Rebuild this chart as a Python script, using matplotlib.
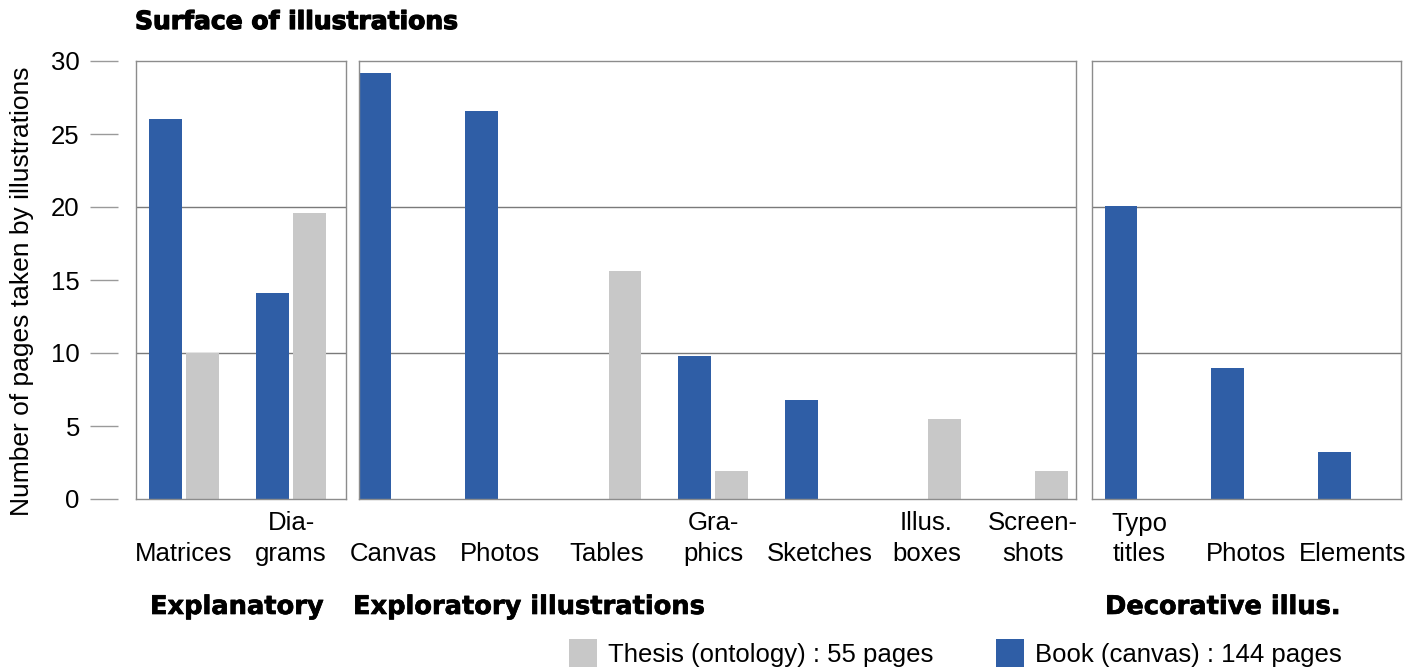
import numpy as np
import matplotlib
matplotlib.use("Agg")
import matplotlib.pyplot as plt
from matplotlib.patches import Patch
import matplotlib.patheffects as pe

plt.rcParams['font.family'] = ['Liberation Sans', 'DejaVu Sans']

# ---- data ----
cats_expl = ["Matrices", "Dia-\ngrams"]
book_expl = [26.0, 14.1]
thesis_expl = [10.0, 19.6]

cats_explor = ["Canvas", "Photos", "Tables", "Gra-\nphics", "Sketches", "Illus.\nboxes", "Screen-\nshots"]
book_explor = [29.2, 26.6, 0, 9.8, 6.75, 0, 0]
thesis_explor = [0, 0, 15.65, 1.95, 0, 5.5, 1.95]

cats_deco = ["Typo\ntitles", "Photos", "Elements"]
book_deco = [20.1, 9.0, 3.2]
thesis_deco = [0, 0, 0]

group_titles = ["Explanatory", "Exploratory illustrations", "Decorative illus."]
yticks = [0, 5, 10, 15, 20, 25, 30]
legend_labels = ["Thesis (ontology) : 55 pages", "Book (canvas) : 144 pages"]

BLUE = "#2F5EA6"
GREY = "#C8C8C8"
EDGE = "#8C8C8C"
GRID = "#7A7A7A"
FS = 18.5
BOLDFONT = ['DejaVu Sans']

W, H = 1422, 669
fig = plt.figure(figsize=(W / 100, H / 100), dpi=100)
fig.patch.set_facecolor("white")

def ax_at(x0, x1, y0=61, y1=499):
    return fig.add_axes([x0 / W, 1 - y1 / H, (x1 - x0) / W, (y1 - y0) / H])

panels = [
    (135.7, 345.7, (-0.45, 1.51), cats_expl, book_expl, thesis_expl),
    (359.0, 1075.7, (-0.32, 6.40), cats_explor, book_explor, thesis_explor),
    (1091.7, 1401.0, (-0.445, 2.45), cats_deco, book_deco, thesis_deco),
]

bw = 0.305
off = 0.172
for x0, x1, xl, cats, book, thesis in panels:
    ax = ax_at(x0, x1)
    x = np.arange(len(cats))
    for yg in (10, 20):
        ax.axhline(yg, color=GRID, lw=1.0, zorder=1)
    ax.bar(x - off, book, width=bw, color=BLUE, zorder=2)
    ax.bar(x + off, thesis, width=bw, color=GREY, zorder=2)
    ax.set_xlim(*xl)
    ax.set_ylim(0, 30)
    ax.set_yticks([])
    labels = [c if "\n" in c else "\n" + c for c in cats]
    ax.set_xticks(x, labels, fontsize=FS, linespacing=1.32)
    ax.tick_params(axis="x", length=0, pad=9)
    for s in ax.spines.values():
        s.set_color(EDGE)
        s.set_linewidth(1.0)

# y axis (detached ticks)
axy = ax_at(118, 119)
axy.set_ylim(0, 30)
axy.set_xticks([])
axy.set_yticks(yticks, [str(t) for t in yticks], fontsize=FS)
axy.tick_params(axis="y", length=20.5, width=1.0, color="#9A9A9A", pad=7)
for s in axy.spines.values():
    s.set_visible(False)
axy.patch.set_visible(False)

fig.text(22 / W, 1 - 291 / H, "Number of pages taken by illustrations", fontsize=19,
         rotation=90, ha="center", va="center")

# title
fig.text(135 / W, 1 - 22 / H, "Surface of illustrations", fontsize=18, fontweight="bold",
         family=BOLDFONT, ha="left", va="center",
         path_effects=[pe.withStroke(linewidth=0.9, foreground="black")])

# group labels
for xg, t in zip([150, 353, 1105], group_titles):
    fig.text(xg / W, 1 - 607 / H, t, fontsize=18.5, fontweight="bold", family=BOLDFONT,
             ha="left", va="center",
             path_effects=[pe.withStroke(linewidth=0.5, foreground="black")])

handles = [Patch(facecolor=GREY, edgecolor="none"), Patch(facecolor=BLUE, edgecolor="none")]
fig.legend(handles, legend_labels, loc="center left", bbox_to_anchor=(569 / W, 1 - 653 / H),
           ncol=2, frameon=False, fontsize=FS, handlelength=1.09, handleheight=1.32,
           handletextpad=0.43, columnspacing=2.45, borderaxespad=0, borderpad=0)

fig.savefig("out.png", dpi=100, facecolor="white")
